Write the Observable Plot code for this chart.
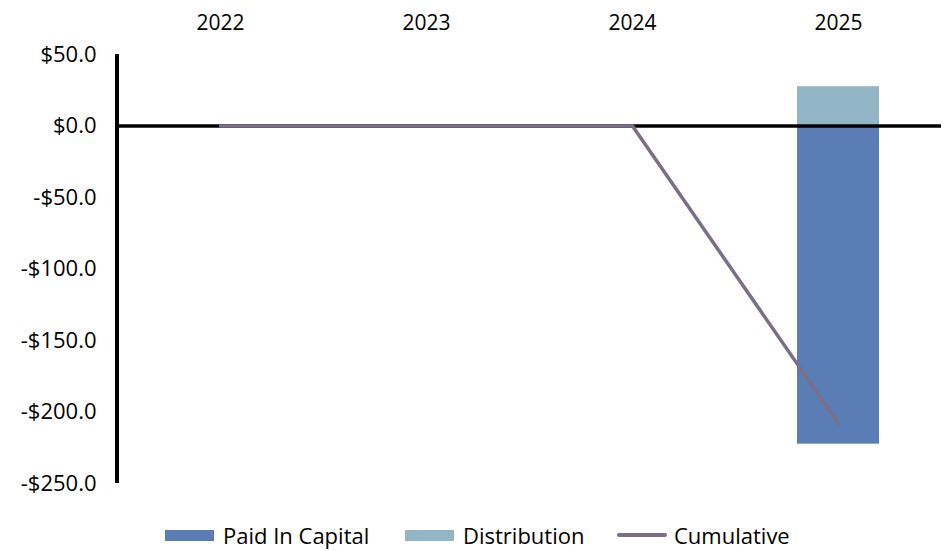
<!DOCTYPE html>
<html>
<head>
<meta charset="utf-8">
<script src="https://cdn.jsdelivr.net/npm/d3@7"></script>
<script src="https://cdn.jsdelivr.net/npm/@observablehq/plot@0.6"></script>
<style>
  html, body { margin: 0; padding: 0; background: #fff; }
  body { width: 948px; height: 551px; overflow: hidden; font-family: "Open Sans", "Liberation Sans", sans-serif; }
  #chart { position: relative; width: 948px; height: 500px; }
  .legend { position: relative; width: 948px; height: 51px; font-size: 22px; color: #000; }
  .item { position: absolute; top: 20px; display: flex; align-items: center; line-height: 30px; }
  .sw { display: inline-block; width: 49px; height: 11px; margin-right: 9px; }
  .ln { display: inline-block; width: 50px; height: 4px; border-radius: 2px; margin-right: 7px; }
</style>
</head>
<body>
<div id="chart"></div>
<div class="legend" id="legend"></div>
<script>
const years = ["2022", "2023", "2024", "2025"];
const paidInCapital = [0, 0, 0, -222.5];
const distribution = [0, 0, 0, 27.5];
const cumulative = [0, 0, 0, -208];
const yTicks = [50, 0, -50, -100, -150, -200, -250];

const colors = { paid: "#5b7db6", dist: "#93b6c7", cum: "#7a6e89" };

const bars = [];
years.forEach((y, i) => {
  bars.push({ year: y, series: "Paid In Capital", value: paidInCapital[i] });
  bars.push({ year: y, series: "Distribution", value: distribution[i] });
});
const lineData = years.map((y, i) => ({ year: y, value: cumulative[i] }));

const fmt = d => (d < 0 ? "-" : "") + "$" + Math.abs(d).toFixed(1);

// vertical y-axis line drawn from the y scale's domain ends
const yAxisLine = (index, scales, values, dims) => {
  const [y0, y1] = scales.scales.y.domain;
  const line = document.createElementNS("http://www.w3.org/2000/svg", "line");
  const x = dims.marginLeft;
  line.setAttribute("x1", x);
  line.setAttribute("x2", x);
  line.setAttribute("y1", scales.y(y0));
  line.setAttribute("y2", scales.y(y1));
  line.setAttribute("stroke", "#000");
  line.setAttribute("stroke-width", 4);
  return line;
};

const chart = Plot.plot({
  width: 948,
  height: 500,
  marginTop: 54,
  marginBottom: 17,
  marginLeft: 117,
  marginRight: 7,
  style: { fontFamily: "'Open Sans', 'Liberation Sans', sans-serif", fontSize: "21px", color: "#000", background: "#fff" },
  x: { domain: years, paddingInner: 0.6, paddingOuter: 0.3, axis: null, label: null },
  y: { domain: [-250, 50], axis: null, label: null },
  marks: [
    Plot.barY(bars.filter(d => d.series === "Paid In Capital"), { x: "year", y1: 0, y2: "value", fill: colors.paid }),
    Plot.barY(bars.filter(d => d.series === "Distribution"), { x: "year", y1: 0, y2: "value", fill: colors.dist }),
    Plot.ruleY([0], { stroke: "#000", strokeWidth: 3.5 }),
    Plot.axisY({ ticks: yTicks, tickFormat: fmt, tickSize: 0, tickPadding: 21, fontSize: 22, label: null }),
    yAxisLine,
    Plot.axisX({ anchor: "top", tickSize: 0, tickPadding: 25, fontSize: 21, label: null }),
    Plot.line(lineData, { x: "year", y: "value", stroke: colors.cum, strokeWidth: 3.5 })
  ]
});
document.getElementById("chart").appendChild(chart);

const legendItems = [
  { label: "Paid In Capital", type: "sw", color: colors.paid, left: 165 },
  { label: "Distribution", type: "sw", color: colors.dist, left: 405 },
  { label: "Cumulative", type: "ln", color: colors.cum, left: 617 }
];
const legend = document.getElementById("legend");
legendItems.forEach(it => {
  const div = document.createElement("div");
  div.className = "item";
  div.style.left = it.left + "px";
  const s = document.createElement("span");
  s.className = it.type;
  s.style.background = it.color;
  div.appendChild(s);
  div.appendChild(document.createTextNode(it.label));
  legend.appendChild(div);
});
</script>
</body>
</html>
